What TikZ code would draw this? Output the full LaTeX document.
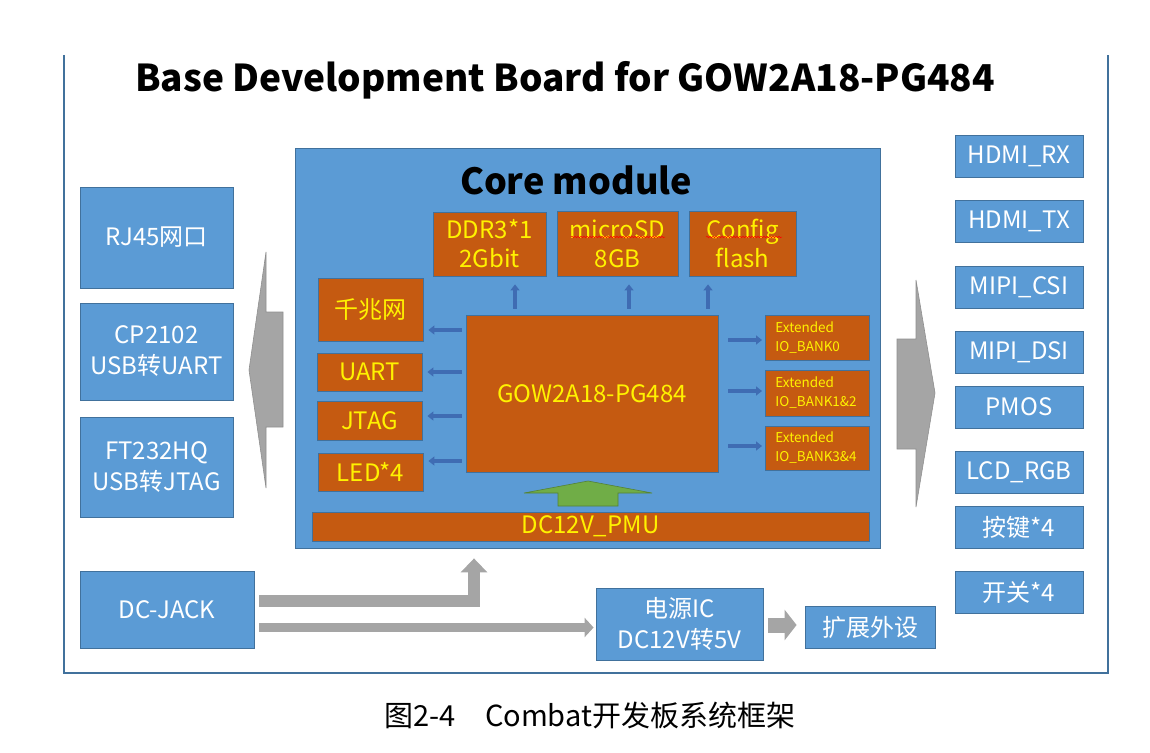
\documentclass[tikz,border=0pt]{standalone}
\usepackage{fontspec}
\setmainfont{Noto Sans CJK SC}
\usetikzlibrary{positioning,arrows.meta,decorations.pathmorphing}
\definecolor{boxblue}{HTML}{5B9BD5}
\definecolor{edgeblue}{HTML}{41719C}
\definecolor{corange}{HTML}{C55A11}
\definecolor{arrblue}{HTML}{3F6CB3}
\definecolor{fatgray}{HTML}{A5A5A5}
\definecolor{fatedge}{HTML}{8F8F8F}
\definecolor{pgreen}{HTML}{70AD47}
\definecolor{pgreenedge}{HTML}{548235}

\begin{document}
\begin{tikzpicture}[x=1pt,y=-1pt,
  bluebox/.style={draw=edgeblue,fill=boxblue,text=white,line width=0.8pt,inner sep=0pt,align=center,font=\fontsize{24}{31}\selectfont},
  corebox/.style={draw=edgeblue,fill=corange,text=yellow,line width=0.8pt,inner sep=0pt,align=center,font=\fontsize{24}{29}\selectfont},
  bankbox/.style={corebox,align=left,text width=84pt,inner xsep=10pt,anchor=west,font=\fontsize{13.5}{19}\selectfont},
  rightbox/.style={bluebox,minimum width=128pt,minimum height=42pt},
  link/.style={arrblue,line width=3.2pt,-{Triangle[length=6pt,width=9pt]}},
  fat/.style={fatgray}]
\useasboundingbox (0,0) rectangle (1150,752);
\draw[edgeblue,line width=1.2pt] (64,55) -- (64,673) -- (1108,673) -- (1108,55);
\node[font=\fontsize{37}{40}\selectfont\bfseries] (title) at (565,80) {Base Development Board for GOW2A18-PG484};

\node[bluebox,minimum width=585pt,minimum height=400pt] (core) at (587.5,348) {};
\node[font=\fontsize{36}{40}\selectfont\bfseries] (coret) at (576,180) {Core module};
\node[corebox,minimum width=113pt,minimum height=64pt] (ddr) at (489.5,244) {DDR3*1\\2Gbit};
\node[corebox,minimum width=121pt,minimum height=65pt] (sd) at (617.5,243.5) {microSD\\8GB};
\node[corebox,minimum width=107pt,minimum height=65pt] (cfg) at (742.5,243.5) {Config\\flash};
\node[corebox,minimum width=105pt,minimum height=63pt] (gbe) at (370.5,309.5) {千兆网};
\node[corebox,minimum width=105pt,minimum height=38pt] (uart) at (369.5,372) {UART};
\node[corebox,minimum width=105pt,minimum height=39pt] (jtag) at (369.5,420.5) {JTAG};
\node[corebox,minimum width=105pt,minimum height=38pt] (led) at (370.5,472) {LED*4};
\node[corebox,minimum width=252pt,minimum height=157pt] (fpga) at (592,393.5) {GOW2A18-PG484};
\node[bankbox,minimum height=45pt] (bank0) at (765,337.5) {Extended\\IO\_BANK0};
\node[bankbox,minimum height=46pt] (bank12) at (765,393) {Extended\\IO\_BANK1\&2};
\node[bankbox,minimum height=44pt] (bank34) at (765,448) {Extended\\IO\_BANK3\&4};
\node[corebox,minimum width=557pt,minimum height=29pt] (pmu) at (590.5,526.5) {DC12V\_PMU};

\node[bluebox,minimum width=153pt,minimum height=101pt] (rj45) at (156.5,237.5) {RJ45网口};
\node[bluebox,minimum width=153pt,minimum height=97pt] (cp) at (156.5,351.5) {CP2102\\USB转UART};
\node[bluebox,minimum width=153pt,minimum height=100pt] (ft) at (156.5,467) {FT232HQ\\USB转JTAG};
\node[bluebox,minimum width=174pt,minimum height=77pt] (dcjack) at (167,609.5) {DC-JACK};
\node[bluebox,minimum width=167pt,minimum height=72pt] (pwr) at (679.5,624) {电源IC\\DC12V转5V};
\node[bluebox,minimum width=130pt,minimum height=42pt] (ext) at (870,627) {扩展外设};

\node[rightbox] (hdmirx) at (1019,156.5) {HDMI\_RX};
\node[rightbox] (hdmitx) at (1019,221.5) {HDMI\_TX};
\node[rightbox] (csi) at (1019,287.5) {MIPI\_CSI};
\node[rightbox] (dsi) at (1019,352) {MIPI\_DSI};
\node[rightbox] (pmos) at (1019,407) {PMOS};
\node[rightbox] (lcd) at (1019,472.5) {LCD\_RGB};
\node[rightbox] (key) at (1019,527.5) {按键*4};
\node[rightbox] (sw) at (1019,592) {开关*4};

\draw[red,line width=0.5pt,decorate,decoration={snake,amplitude=0.7pt,segment length=3pt}] (571,237) -- (665,237);
\draw[red,line width=0.5pt,decorate,decoration={snake,amplitude=0.7pt,segment length=3pt}] (706,237) -- (782,237);

\draw[link,shorten <=6pt,shorten >=8pt] (515,0 |- fpga.north) -- (515,0 |- ddr.south);
\draw[link,shorten <=6pt,shorten >=8pt] (629,0 |- fpga.north) -- (629,0 |- sd.south);
\draw[link,shorten <=6pt,shorten >=8pt] (708,0 |- fpga.north) -- (708,0 |- cfg.south);
\draw[link,shorten <=4pt,shorten >=5pt] (fpga.west |- 0,330) -- (gbe.east |- 0,330);
\draw[link,shorten <=4pt,shorten >=5pt] (fpga.west |- 0,372) -- (uart.east |- 0,372);
\draw[link,shorten <=4pt,shorten >=5pt] (fpga.west |- 0,416) -- (jtag.east |- 0,416);
\draw[link,shorten <=4pt,shorten >=5pt] (fpga.west |- 0,461) -- (led.east |- 0,461);
\draw[link,shorten <=10pt,shorten >=3pt] (fpga.east |- 0,340) -- (bank0.west |- 0,340);
\draw[link,shorten <=10pt,shorten >=3pt] (fpga.east |- 0,391) -- (bank12.west |- 0,391);
\draw[link,shorten <=10pt,shorten >=3pt] (fpga.east |- 0,446) -- (bank34.west |- 0,446);
\filldraw[fill=pgreen,draw=pgreenedge,line width=0.6pt] (588,481) -- (652,493) -- (618,493) -- (618,506) -- (558,506) -- (558,493) -- (524,493) -- cycle;

\filldraw[fill=fatgray,draw=fatedge,line width=0.6pt] (249,370) -- (266,252) -- (266,312) -- (283,312) -- (283,427) -- (266,427) -- (266,488) -- cycle;
\filldraw[fill=fatgray,draw=fatedge,line width=0.6pt] (935,393) -- (916,280) -- (916,339) -- (897,339) -- (897,449) -- (916,449) -- (916,507) -- cycle;
\draw[fat,line width=12pt,-{Triangle[length=14pt,width=26pt]},shorten <=5pt,shorten >=10pt] (dcjack.east |- 0,601) -| (474,0 |- core.south);
\draw[fat,line width=9pt,-{Triangle[length=9pt,width=19pt]},shorten <=5pt,shorten >=2pt] (dcjack.east |- 0,627.5) -- (pwr.west |- 0,627.5);
\draw[fat,line width=15pt,-{Triangle[length=12pt,width=30pt]},shorten <=5pt,shorten >=8pt] (pwr.east |- 0,625) -- (ext.west |- 0,625);

\node[font=\fontsize{29}{32}\selectfont] (cap) at (590,715) {图2-4　Combat开发板系统框架};
\end{tikzpicture}
\end{document}
